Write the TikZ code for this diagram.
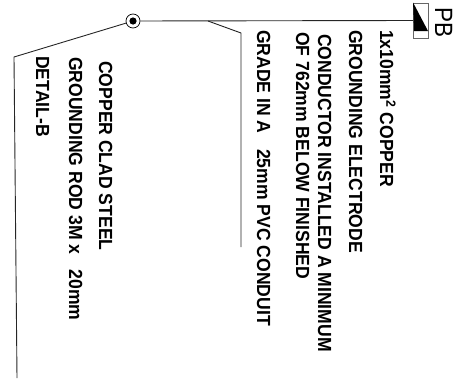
\documentclass[tikz,border=0pt]{standalone}
\usepackage{fontspec}
\setmainfont{Liberation Sans}
\usepackage{xcolor}
\usetikzlibrary{positioning}
\tikzset{note/.style={rotate=-90,anchor=base west,inner sep=0pt,font=\fontsize{19}{19}\selectfont\bfseries},
  wire/.style={line width=0.9pt,black!85}}
\newcommand{\squeezed}[1]{\scalebox{0.925}[1]{#1}}
\begin{document}
\begin{tikzpicture}[x=1pt,y=-1pt]
    \useasboundingbox (0,0) rectangle (462,378);
    \node[circle,draw,line width=0.7pt,minimum size=14pt,inner sep=0pt] (joint)at (133,21) {};
    \fill (joint) circle (3.6pt);
    \coordinate (branch) at (208,21);
    \coordinate (bendb) at (241,33);
    \coordinate (endb) at (241,247);
    \coordinate (benda) at (14,57);
    \coordinate (enda) at (17,378);
    \node[draw=black!60,line width=0.8pt,minimum width=15pt,minimum height=35pt,inner sep=0pt] (pbbox)at (421,20.5) {};
    \coordinate (wedge) at (428,31);
    \coordinate (wedgel) at (414,31);
    \fill (pbbox.north west) -- (wedge) -- (wedgel) -- cycle;

    \draw [wire] (joint) to (pbbox.west);
    \draw [wire] (branch) to (bendb) to (endb);
    \draw [wire] (joint) to (benda) to (enda);

    \node[note,font=\fontsize{25}{25}\selectfont] (pb)at (435,7) {\scalebox{0.9}[1]{PB}};
    \node[note] (size)at (380,30) {\squeezed{1x10mm\textsuperscript{2} COPPER}};
    \node[note] (elec)at (349,30) {\squeezed{GROUNDING ELECTRODE}};
    \node[note] (cond)at (318,34) {\squeezed{CONDUCTOR INSTALLED A MINIMUM}};
    \node[note] (depth)at (296,32) {\squeezed{OF 762mm BELOW FINISHED}};
    \node[note] (grade)at (257,30) {\squeezed{GRADE IN A \hspace{6pt} 25mm PVC CONDUIT}};
    \node[note] (clad)at (99,61) {\squeezed{COPPER CLAD STEEL}};
    \node[note] (rod)at (69,57) {\squeezed{GROUNDING ROD 3M x \hspace{6pt} 20mm}};
    \node[note] (detail)at (36,56) {\squeezed{DETAIL-B}};
\end{tikzpicture}
\end{document}
